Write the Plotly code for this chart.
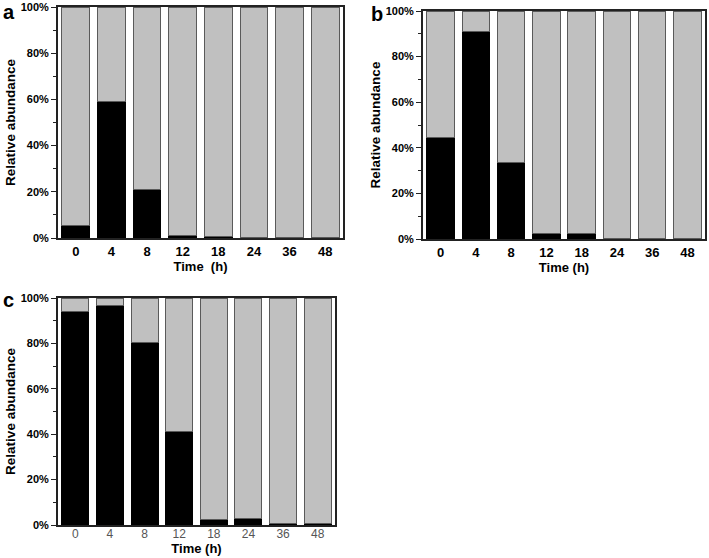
import plotly.graph_objects as go

times = ["0", "4", "8", "12", "18", "24", "36", "48"]
a_black = [5.4, 59.3, 21.2, 1.2, 0.5, 0.1, 0.1, 0.1]
b_black = [44.7, 90.8, 33.6, 2.3, 2.3, 0.4, 0.2, 0.2]
c_black = [94.0, 96.9, 80.5, 41.3, 2.4, 2.8, 0.6, 0.8]
y_ticks = [0, 20, 40, 60, 80, 100]
y_ticktext = ["0%", "20%", "40%", "60%", "80%", "100%"]
panels = ["a", "b", "c"]
x_titles = ["Time  (h)", "Time (h)", "Time (h)"]
y_title = "Relative abundance"

W, H = 709, 558
# plot boxes in pixels: left, right, top, bottom
boxes = [(58, 343, 7, 238), (423, 705, 11, 239), (58, 335, 298, 525)]
letter_pos = [(1, 12), (369, 14), (1, 300)]

FONT = "Liberation Sans, Arial, sans-serif"
fig = go.Figure()
data = [a_black, b_black, c_black]
for i, vals in enumerate(data):
    ax = "" if i == 0 else str(i + 1)
    rest = [100 - v for v in vals]
    fig.add_trace(go.Bar(x=times, y=vals, xaxis="x" + ax, yaxis="y" + ax,
                         marker=dict(color="black", line=dict(color="black", width=1)),
                         width=0.78, showlegend=False))
    fig.add_trace(go.Bar(x=times, y=rest, xaxis="x" + ax, yaxis="y" + ax,
                         marker=dict(color="#c0c0c0", line=dict(color="#5a5a5a", width=1)),
                         width=0.78, showlegend=False))

layout = dict(
    width=W, height=H, margin=dict(l=0, r=0, t=0, b=0, autoexpand=False),
    paper_bgcolor="white", plot_bgcolor="white",
    barmode="stack",
    font=dict(family=FONT, color="black"),
)
annotations = []
for i, (l, r, t, b) in enumerate(boxes):
    ax = "" if i == 0 else str(i + 1)
    xd = [l / W, r / W]
    yd = [1 - b / H, 1 - t / H]
    tick_weight = "bold" if i < 2 else "normal"
    tick_color = "black" if i < 2 else "#555555"
    layout["xaxis" + ax] = dict(
        domain=xd, anchor="y" + ax, type="category", range=[-0.5, 7.5],
        automargin=False,
        showline=True, linecolor="#222222", linewidth=1.8, mirror=True,
        ticks="", showgrid=False, zeroline=False,
        ticklabelstandoff=(0 if i < 2 else -3),
        tickfont=dict(size=(13 if i < 2 else 12), weight=tick_weight, color=tick_color, family=FONT),
        title=dict(text=x_titles[i], font=dict(size=13, weight="bold", family=FONT),
                   standoff=(4 if i < 2 else 1)),
    )
    layout["yaxis" + ax] = dict(
        domain=yd, anchor="x" + ax, range=[0, 100],
        automargin=False,
        showline=True, linecolor="#222222", linewidth=1.8, mirror=True,
        ticks="outside", ticklen=5, tickwidth=1, tickcolor="#222222",
        tickvals=y_ticks, ticktext=y_ticktext,
        minor=dict(ticks="outside", ticklen=3, dtick=10, tickcolor="#222222", showgrid=False),
        showgrid=False, zeroline=False,
        tickfont=dict(size=11, weight="bold", family=FONT),
        title=dict(text=y_title, font=dict(size=13.5, weight="bold", family=FONT), standoff=2),
    )
    lx, ly = letter_pos[i]
    annotations.append(dict(
        text=panels[i], xref="paper", yref="paper",
        x=lx / W, y=1 - ly / H, xanchor="left", yanchor="middle",
        showarrow=False, font=dict(size=20, weight="bold", family=FONT, color="black"),
    ))
layout["annotations"] = annotations
fig.update_layout(**layout)
fig.write_html("out.html", config={"displayModeBar": False},
               post_script="document.body.style.margin='0px';")
